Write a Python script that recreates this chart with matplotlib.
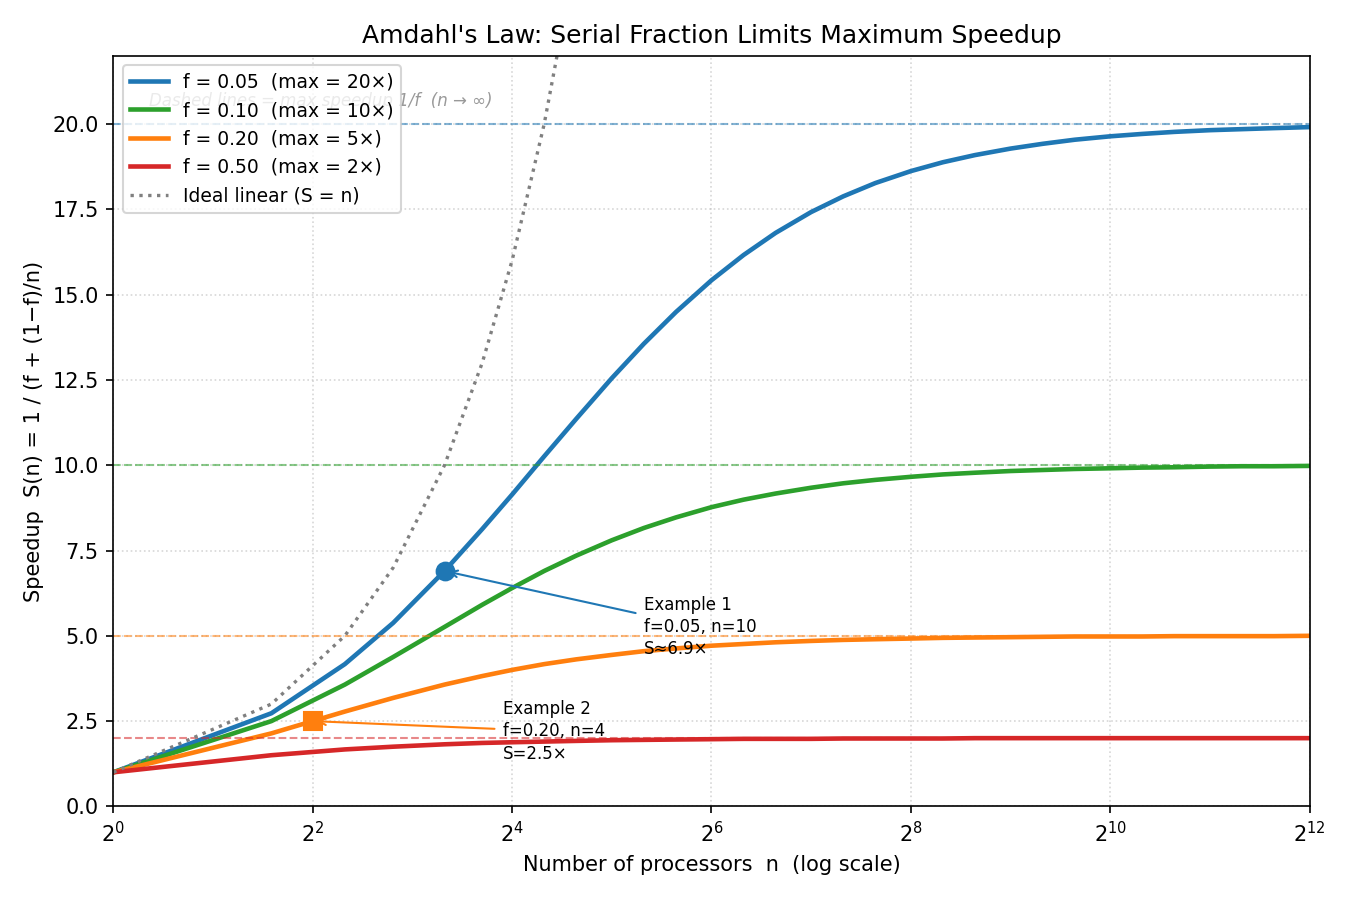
import matplotlib
matplotlib.use("Agg")
import matplotlib.pyplot as plt
from matplotlib.ticker import LogLocator, LogFormatterMathtext

# processor counts sampled for the curves
n_vals = [1, 3, 5, 7, 10, 13, 16, 20, 25, 32, 40, 50, 64, 80, 100, 128, 160, 200,
          256, 320, 400, 512, 640, 800, 1024, 1280, 1600, 2048, 2560, 3200, 4096]

s_f005 = [1.00, 2.73, 4.17, 5.38, 6.90, 8.13, 9.14, 10.26, 11.36, 12.55, 13.56,
          14.49, 15.42, 16.16, 16.81, 17.42, 17.88, 18.27, 18.62, 18.88, 19.09,
          19.28, 19.42, 19.54, 19.64, 19.71, 19.77, 19.82, 19.85, 19.88, 19.91]
s_f010 = [1.00, 2.50, 3.57, 4.38, 5.26, 5.91, 6.40, 6.90, 7.35, 7.80, 8.16,
          8.47, 8.77, 8.99, 9.17, 9.34, 9.47, 9.57, 9.66, 9.73, 9.78,
          9.83, 9.86, 9.89, 9.91, 9.93, 9.94, 9.96, 9.97, 9.97, 9.98]
s_f020 = [1.00, 2.14, 2.78, 3.18, 3.57, 3.82, 4.00, 4.17, 4.31, 4.44, 4.55,
          4.63, 4.71, 4.76, 4.81, 4.85, 4.88, 4.90, 4.92, 4.94, 4.95,
          4.96, 4.97, 4.98, 4.98, 4.98, 4.99, 4.99, 4.99, 4.99, 5.00]
s_f050 = [1.00, 1.50, 1.67, 1.75, 1.82, 1.86, 1.88, 1.90, 1.92, 1.94, 1.95,
          1.96, 1.97, 1.98, 1.98, 1.98, 1.99, 1.99, 1.99, 1.99, 2.00,
          2.00, 2.00, 2.00, 2.00, 2.00, 2.00, 2.00, 2.00, 2.00, 2.00]

fractions = [0.05, 0.10, 0.20, 0.50]
max_speedup = [20, 10, 5, 2]
colors = ['#1f77b4', '#2ca02c', '#ff7f0e', '#d62728']
curves = [s_f005, s_f010, s_f020, s_f050]

# highlighted examples
ex1_n, ex1_s = 10, 6.9
ex2_n, ex2_s = 4, 2.5

fig, ax = plt.subplots(figsize=(9, 6), dpi=150)
fig.subplots_adjust(left=0.084, right=0.970, top=0.938, bottom=0.104)

for f, m, c, s in zip(fractions, max_speedup, colors, curves):
    ax.plot(n_vals, s, color=c, lw=2.2, label=f"f = {f:.2f}  (max = {m}×)")
    ax.axhline(m, color=c, ls='--', lw=1, alpha=0.55)

ax.plot(n_vals, n_vals, color='gray', ls=':', lw=1.6, label="Ideal linear (S = n)")

ax.plot(ex1_n, ex1_s, 'o', color=colors[0], ms=8.5, zorder=5)
ax.annotate("Example 1\nf=0.05, n=10\nS≈6.9×", xy=(ex1_n, ex1_s), xytext=(40, 5.25),
            fontsize=8, va='center', linespacing=1.3,
            arrowprops=dict(arrowstyle='->', color=colors[0], lw=1))
ax.plot(ex2_n, ex2_s, 's', color=colors[2], ms=8.5, zorder=5)
ax.annotate("Example 2\nf=0.20, n=4\nS=2.5×", xy=(ex2_n, ex2_s), xytext=(15, 2.2),
            fontsize=8, va='center', linespacing=1.3,
            arrowprops=dict(arrowstyle='->', color=colors[2], lw=1))

ax.text(0.03, 0.94, "Dashed lines = max speedup 1/f  (n → ∞)", transform=ax.transAxes,
        fontsize=8, style='italic', color='gray', alpha=0.8, va='center')

ax.set_xscale('log', base=2)
ax.xaxis.set_major_locator(LogLocator(base=4))
ax.xaxis.set_major_formatter(LogFormatterMathtext(base=2))
ax.xaxis.set_minor_locator(plt.NullLocator())
ax.set_xlim(1, 4096)
ax.set_ylim(0, 22)
ax.set_yticks([0, 2.5, 5, 7.5, 10, 12.5, 15, 17.5, 20])
ax.grid(True, ls=':', alpha=0.5)

ax.set_title("Amdahl's Law: Serial Fraction Limits Maximum Speedup", fontsize=12)
ax.set_xlabel("Number of processors  n  (log scale)")
ax.set_ylabel("Speedup  S(n) = 1 / (f + (1−f)/n)")
ax.legend(loc='upper left', fontsize=9)

fig.savefig("out.png", dpi=150)
